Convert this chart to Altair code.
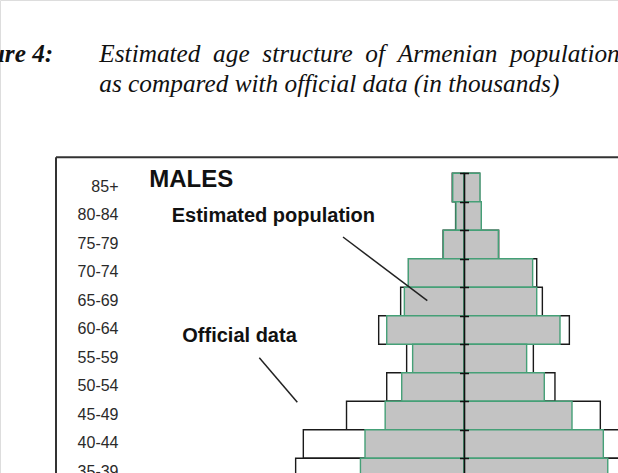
import altair as alt
import pandas as pd

# Age groups visible in the figure (top to bottom)
ages = ["85+", "80-84", "75-79", "70-74", "65-69", "60-64", "55-59",
        "50-54", "45-49", "40-44", "35-39"]

# Values in thousands
male_est = [9.4, 6.7, 17.2, 46.4, 49.7, 64.4, 42.8, 51.9, 65.7, 82.5, 86.3]
male_off = [9.8, 7.0, 17.4, 46.2, 52.8, 71.1, 47.8, 64.4, 97.9, 133.9, 140.3]
female_est = [13.3, 14.4, 28.6, 57.2, 60.6, 80.0, 52.2, 66.9, 90.0, 116.1, 119.8]
female_off = [13.0, 14.2, 28.9, 60.6, 65.3, 87.8, 57.8, 75.8, 113.6, 140.0, 145.0]

rows = []
for i, a in enumerate(ages):
    rows.append(dict(age=a, series="Official", start=-male_off[i], end=0))
    rows.append(dict(age=a, series="Official", start=0, end=female_off[i]))
    rows.append(dict(age=a, series="Estimated", start=-male_est[i], end=0))
    rows.append(dict(age=a, series="Estimated", start=0, end=female_est[i]))
df = pd.DataFrame(rows)
lab = pd.DataFrame({"age": ages})
dummy = pd.DataFrame({"a": [0]})

W, H = 618, 473
k = 1.2          # px per thousand
cx = 464         # pixel of zero
xscale = alt.Scale(domain=[-cx / k, (W - cx) / k], nice=False, zero=False)
top = 173.3
band = 28.5
yscale = alt.Scale(domain=ages, range=[top, top + band * len(ages)],
                   paddingInner=0, paddingOuter=0)

official = alt.Chart(df).transform_filter(alt.datum.series == "Official").mark_bar(
    fill="white", stroke="#1a1a1a", strokeWidth=1.4, clip=True
).encode(
    x=alt.X("start:Q", scale=xscale, axis=None),
    x2="end:Q",
    y=alt.Y("age:N", scale=yscale, sort=ages,
            axis=alt.Axis(orient="left", offset=-(cx + 4.5), domain=False,
                          labels=False, ticks=True, tickSize=9, tickBand="extent",
                          tickColor="#111", tickWidth=1.5, title=None, grid=False,
                          zindex=2)),
)

estimated = alt.Chart(df).transform_filter(alt.datum.series == "Estimated").mark_bar(
    fill="#c3c3c3", stroke="#45a077", strokeWidth=1.4, clip=True
).encode(
    x=alt.X("start:Q", scale=xscale, axis=None),
    x2="end:Q",
    y=alt.Y("age:N", scale=yscale, sort=ages,
            axis=alt.Axis(orient="right", offset=-(W - cx), domain=True,
                          domainColor="#111", domainWidth=1.6, labels=False,
                          ticks=False, title=None, grid=False, zindex=2)),
)

labels = alt.Chart(lab).mark_text(
    align="right", baseline="middle", dy=-1, font="Liberation Sans",
    fontSize=16, color="#2a2a2a"
).encode(
    y=alt.Y("age:N", scale=yscale, sort=ages, axis=None),
    x=alt.value(118.5),
    text="age:N",
)

def txt(s, x, y, **kw):
    return alt.Chart(dummy).mark_text(text=s, baseline="alphabetic", **kw).encode(
        x=alt.value(x), y=alt.value(y))

def line(x1, y1, x2, y2, color="#222", w=1.5):
    return alt.Chart(dummy).mark_rule(color=color, strokeWidth=w).encode(
        x=alt.value(x1), y=alt.value(y1), x2=alt.value(x2), y2=alt.value(y2))

serif = "Liberation Serif"
sans = "Liberation Sans"
title_fig = txt("Figure 4:", 53.3, 61.5, align="right", font=serif, fontSize=25.3,
                fontWeight="bold", fontStyle="italic", color="#111")
title1 = txt("Estimated\u2002age\u2002structure\u2002of\u2002Armenian\u2002population",
             99.3, 61.5, align="left", font=serif, fontSize=25.3,
             fontStyle="italic", color="#111")
title2 = txt("as compared with official data (in thousands)", 99.3, 91.5,
             align="left", font=serif, fontSize=25.3, fontStyle="italic", color="#111")

males = txt("MALES", 149.3, 187.3, align="left", font=sans, fontSize=24,
            fontWeight="bold", color="#111")
est_lab = txt("Estimated population", 171.7, 221.7, align="left", font=sans,
              fontSize=20, fontWeight="bold", color="#111")
off_lab = txt("Official data", 182.3, 341.7, align="left", font=sans,
              fontSize=20, fontWeight="bold", color="#111")

est_line = line(343, 237, 427.3, 300.7)
off_line = line(259.3, 357.7, 297.3, 402.3)

frame_left = line(56, 157.3, 56, H, color="#333", w=2)
frame_top = line(56, 157.3, W, 157.3, color="#333", w=2)

chart = alt.layer(
    official, estimated, labels, title_fig, title1, title2, males, est_lab, off_lab,
    est_line, off_line, frame_left, frame_top
).resolve_axis(y="independent").properties(
    width=W, height=H, padding=0,
    autosize=alt.AutoSizeParams(type="none"),
).configure_view(stroke=None).configure(background="white")

chart.save("out.html", embed_options={"renderer": "svg", "actions": False})
